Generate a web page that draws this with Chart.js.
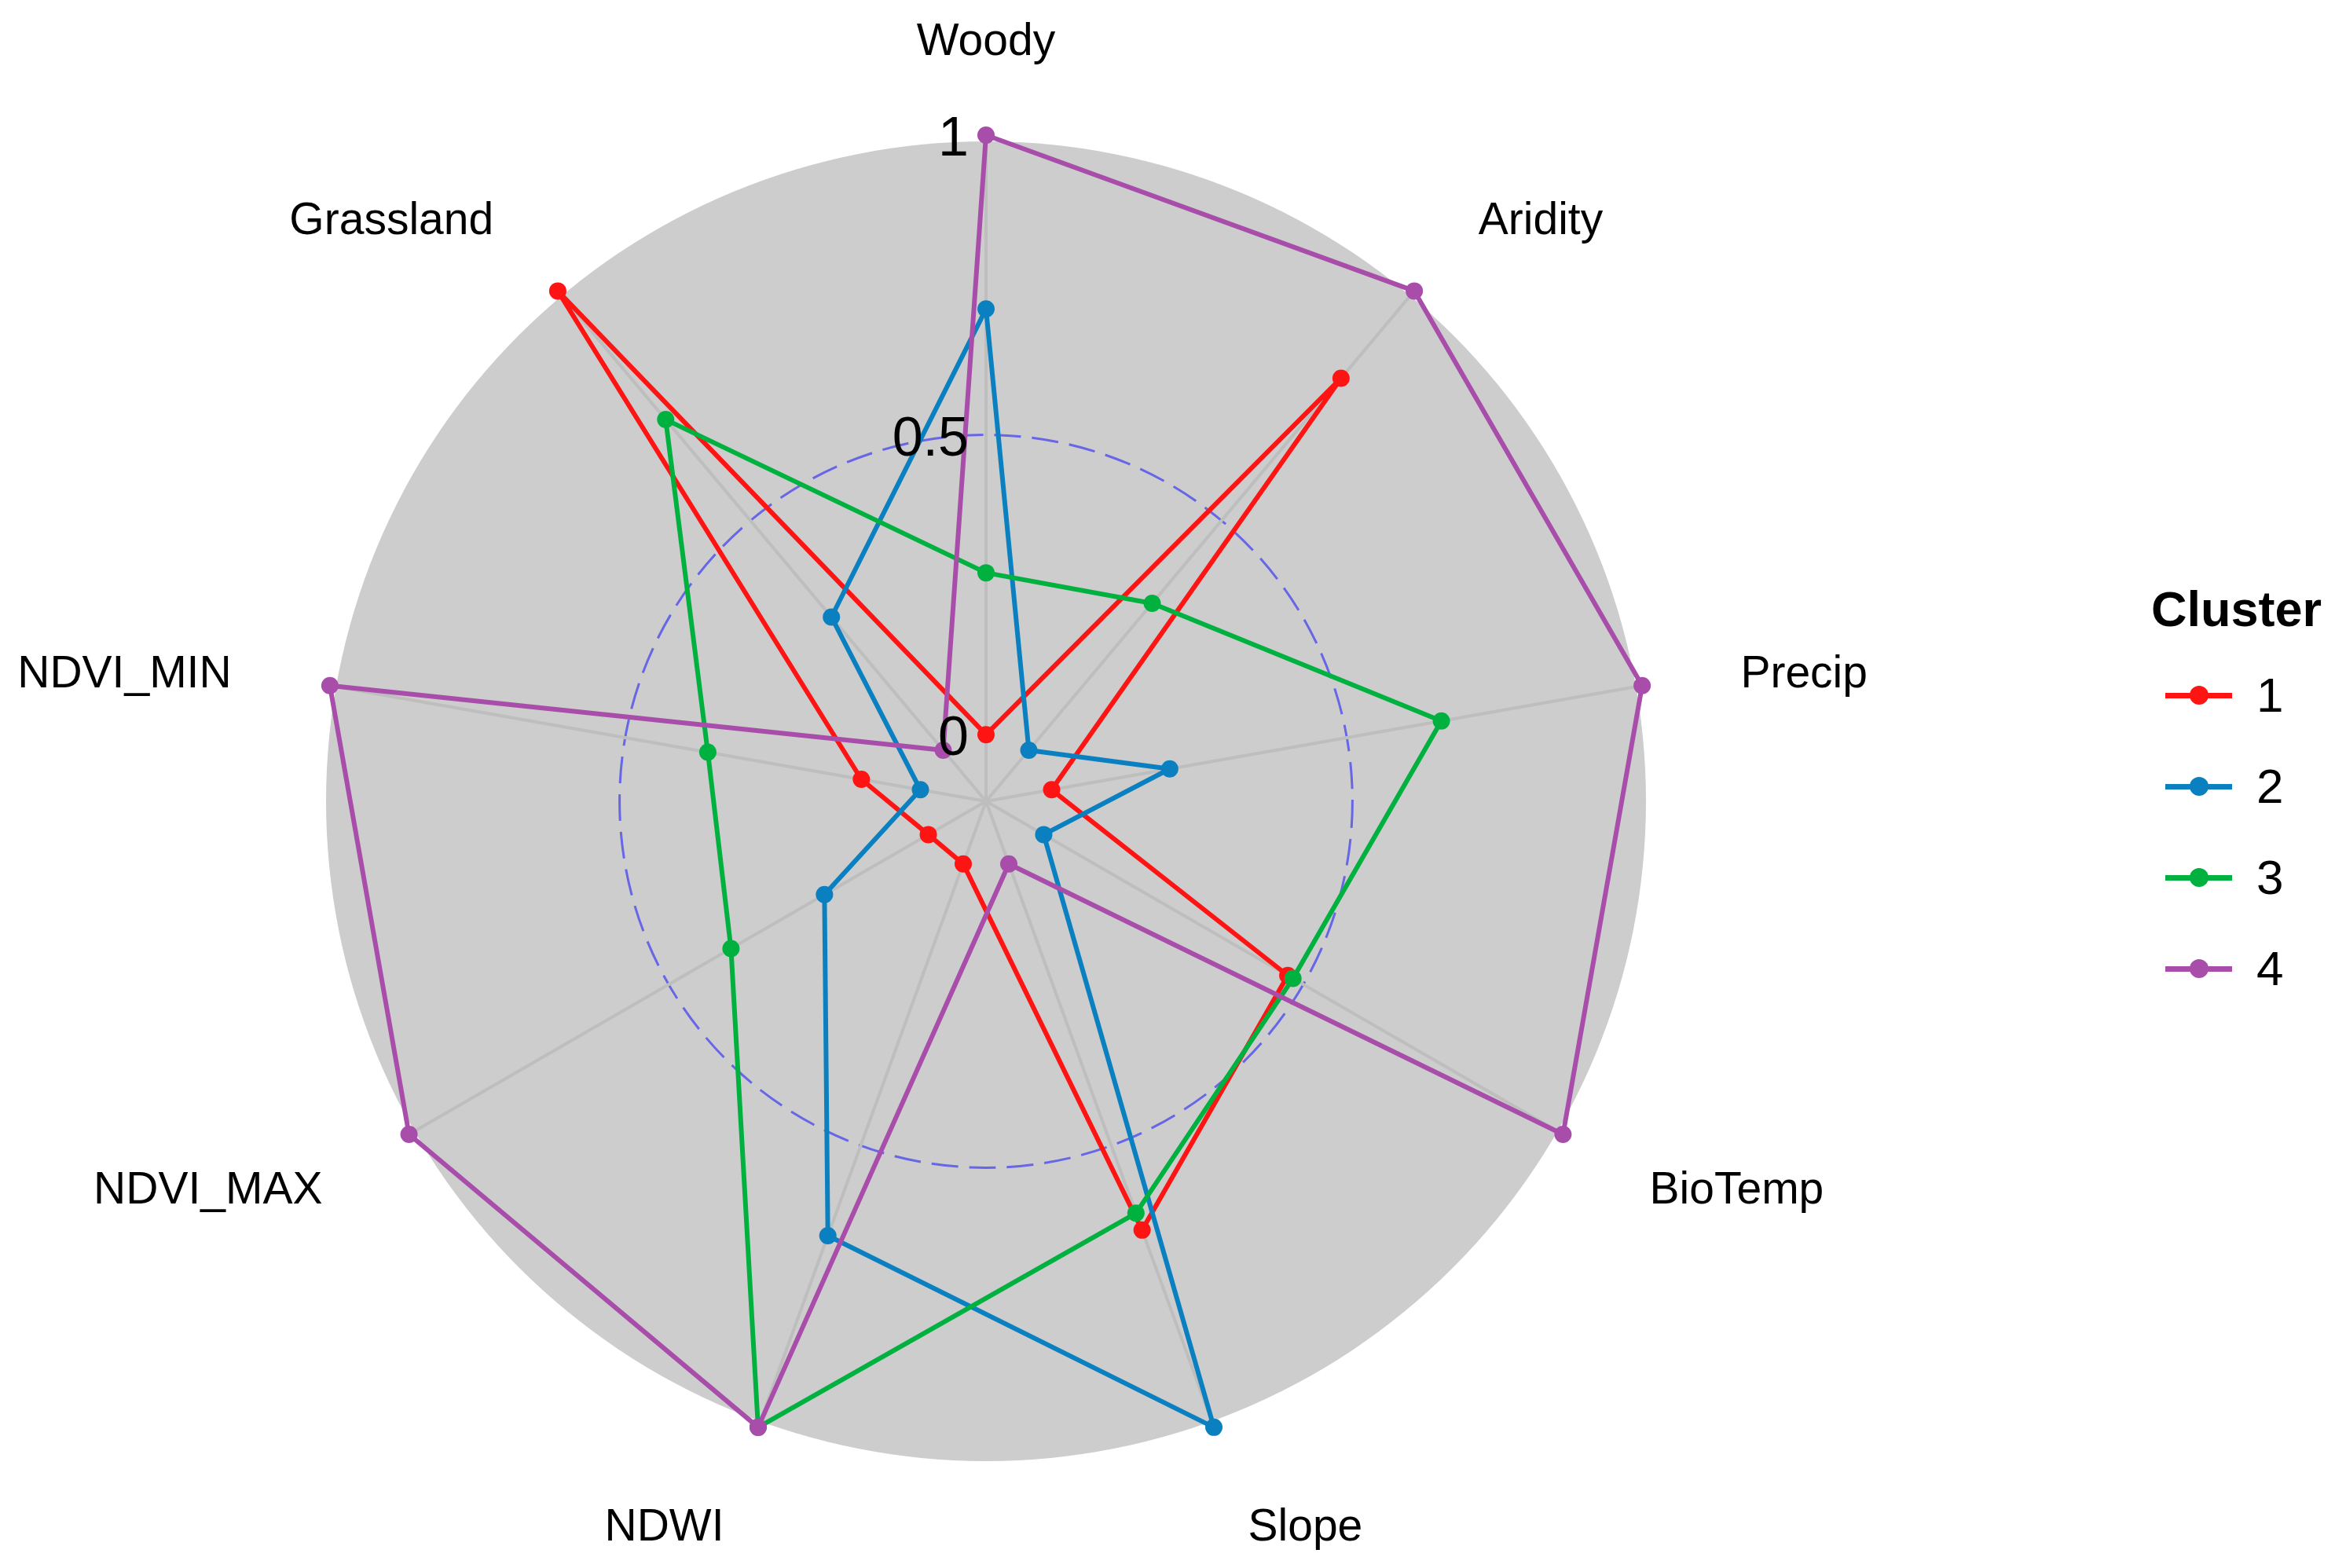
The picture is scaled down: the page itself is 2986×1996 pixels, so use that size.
<!DOCTYPE html>
<html>
<head>
<meta charset="utf-8">
<title>Cluster radar</title>
<script src="https://cdn.jsdelivr.net/npm/chart.js@4.4.1/dist/chart.umd.min.js"></script>
<style>
    body {
        margin: 0;
        background: #FFFFFF;
        font-family: "Liberation Sans", Arial, sans-serif;
    }
    #wrap {
        position: relative;
        width: 2986px;
        height: 1996px;
    }
    #legend {
        position: absolute;
        left: 2738px;
        top: 740px;
        color: #000;
    }
    .legend-title {
        font-size: 63px;
        font-weight: bold;
        line-height: 70px;
        height: 70px;
        margin-bottom: 17px;
    }
    .legend-row {
        position: relative;
        height: 116px;
        width: 240px;
    }
    .legend-line {
        position: absolute;
        left: 18px;
        top: 55px;
        width: 85px;
        height: 7px;
        background: var(--c);
    }
    .legend-dot {
        position: absolute;
        left: 49px;
        top: 46px;
        width: 24px;
        height: 24px;
        border-radius: 50%;
        background: var(--c);
    }
    .legend-text {
        position: absolute;
        left: 134px;
        top: 0;
        line-height: 116px;
        font-size: 62px;
    }
</style>
</head>
<body>
<div id="wrap">
    <canvas id="radar" width="2986" height="1996"></canvas>
    <div id="legend"></div>
</div>
<script>
// axes go clockwise from the top
const AXES = ["Woody", "Aridity", "Precip", "BioTemp", "Slope", "NDWI", "NDVI_MAX", "NDVI_MIN", "Grassland"];

const CLUSTER_1 = [0.00, 0.81, 0.00, 0.47, 0.65, 0.00, 0.00, 0.10, 1.00];
const CLUSTER_2 = [0.71, 0.00, 0.20, 0.00, 1.00, 0.66, 0.20, 0.00, 0.29];
const CLUSTER_3 = [0.27, 0.32, 0.66, 0.48, 0.62, 1.00, 0.38, 0.36, 0.72];
const CLUSTER_4 = [1.00, 1.00, 1.00, 1.00, 0.00, 1.00, 1.00, 1.00, 0.00];

const CLUSTER_NAMES = ["1", "2", "3", "4"];
const TICK_VALUES = [0, 0.5, 1];
const TICK_LABELS = ["0", "0.5", "1"];

const COLORS = {
    c1:      "#FF1414",
    c2:      "#0A80C0",
    c3:      "#00B140",
    c4:      "#A84DAA",
    disc:    "#CDCDCD",
    spoke:   "#BEBEBE",
    midGrid: "rgba(0,0,255,0.5)",
    text:    "#000000",
};

const SERIES_COLORS = [COLORS.c1, COLORS.c2, COLORS.c3, COLORS.c4];
const SERIES_DATA = [CLUSTER_1, CLUSTER_2, CLUSTER_3, CLUSTER_4];

// ggradar style: the centre sits 1/9 of the range below zero
const CENTRE_VALUE = -1 / 9;
const FONT = "'Liberation Sans', Arial, sans-serif";

// grey disc behind the web
const discPlugin = {
    id: "disc",
    beforeDraw(chart) {
        const r = chart.scales.r;
        const ctx = chart.ctx;
        ctx.save();
        ctx.fillStyle = COLORS.disc;
        ctx.beginPath();
        ctx.arc(r.xCenter, r.yCenter, r.drawingArea - 8, 0, Math.PI * 2);
        ctx.fill();
        ctx.restore();
    }
};

// axis names and grid values, placed from the scale
const labelPlugin = {
    id: "radarLabels",
    afterDatasetsDraw(chart) {
        const r = chart.scales.r;
        const ctx = chart.ctx;
        ctx.save();
        ctx.fillStyle = COLORS.text;
        ctx.textBaseline = "middle";

        ctx.font = `57px ${FONT}`;
        AXES.forEach((name, i) => {
            const p = r.getPointPosition(i, r.drawingArea * 1.15);
            const dx = p.x - r.xCenter;
            ctx.textAlign = Math.abs(dx) < 20 ? "center" : (dx < 0 ? "right" : "left");
            ctx.fillText(name, p.x, p.y + 9);
        });

        ctx.font = `70px ${FONT}`;
        ctx.textAlign = "right";
        TICK_VALUES.forEach((v, i) => {
            const d = r.getDistanceFromCenterForValue(v);
            ctx.fillText(TICK_LABELS[i], r.xCenter - 22, r.yCenter - d + 7);
        });
        ctx.restore();
    }
};

const ctx = document.getElementById("radar").getContext("2d");

new Chart(ctx, {
    type: "radar",
    data: {
        labels: AXES,
        datasets: SERIES_DATA.map((values, i) => ({
            label: CLUSTER_NAMES[i],
            data: values,
            borderColor: SERIES_COLORS[i],
            backgroundColor: SERIES_COLORS[i],
            pointBackgroundColor: SERIES_COLORS[i],
            pointBorderWidth: 0,
            pointRadius: 11,
            borderWidth: 6,
            borderJoinStyle: "round",
            borderCapStyle: "round",
            fill: false,
            order: 4 - i
        }))
    },
    options: {
        responsive: false,
        animation: false,
        devicePixelRatio: 1,
        layout: { padding: { left: 407, right: 883, top: 172, bottom: 128 } },
        plugins: {
            legend: { display: false },
            tooltip: { enabled: false }
        },
        elements: { line: { tension: 0 } },
        scales: {
            r: {
                min: CENTRE_VALUE,
                max: 1,
                startAngle: 0,
                afterBuildTicks: scale => {
                    scale.ticks = TICK_VALUES.map(v => ({ value: v }));
                },
                ticks: { display: false },
                pointLabels: { display: false },
                angleLines: { color: COLORS.spoke, lineWidth: 4 },
                grid: {
                    circular: true,
                    lineWidth: 3,
                    color: c => (c.tick && c.tick.value === 0.5) ? COLORS.midGrid : "rgba(0,0,0,0)"
                },
                border: { dash: [34, 14] }
            }
        }
    },
    plugins: [discPlugin, labelPlugin]
});

// legend: line with a dot, as in the ggplot key
const legend = document.getElementById("legend");
legend.innerHTML = `<div class="legend-title">Cluster</div>` +
    CLUSTER_NAMES.map((name, i) => `
        <div class="legend-row" style="--c: ${SERIES_COLORS[i]}">
            <div class="legend-line"></div>
            <div class="legend-dot"></div>
            <div class="legend-text">${name}</div>
        </div>`).join("");
</script>
</body>
</html>
